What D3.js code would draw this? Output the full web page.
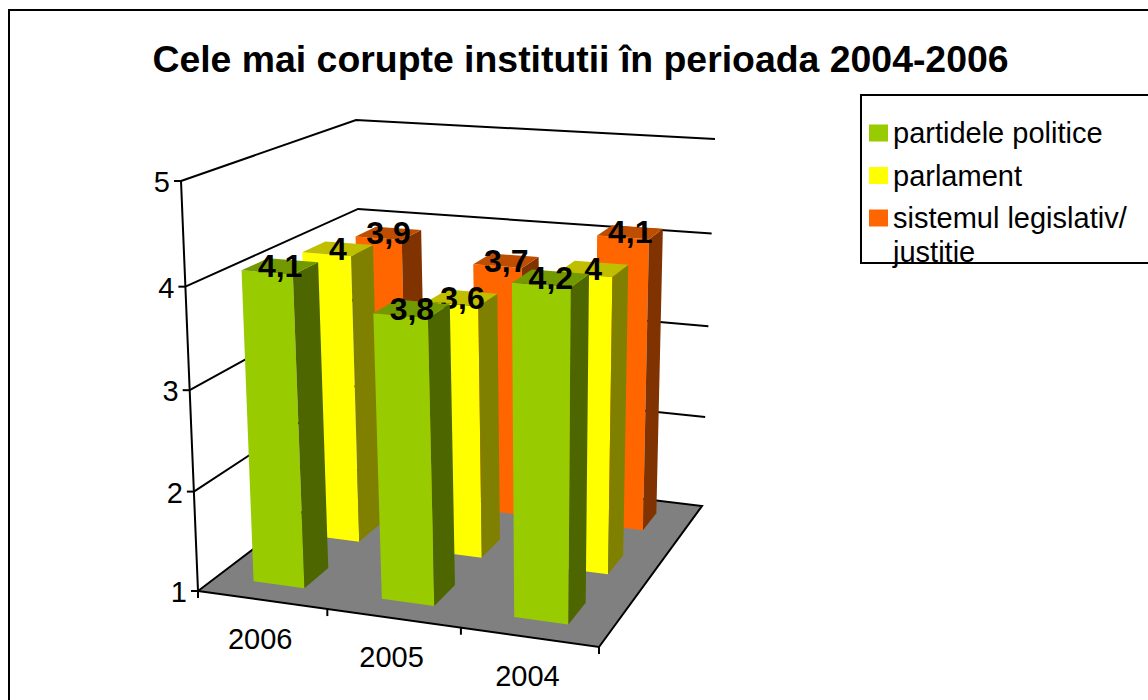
<!DOCTYPE html>
<html>
<head>
<meta charset="utf-8">
<script src="https://cdnjs.cloudflare.com/ajax/libs/d3/7.8.5/d3.min.js"></script>
<style>
  html, body { margin: 0; padding: 0; background: #fff; overflow: hidden; }
  text { font-family: "Liberation Sans", Arial, sans-serif; fill: #000; }
</style>
</head>
<body>
<svg id="chart" width="1148" height="700"></svg>
<script>
/*
** Data
*/
var chartTitle = "Cele mai corupte institutii în perioada 2004-2006"
  , years = ["2006", "2005", "2004"]
  , seriesNames = ["partidele politice", "parlament", "sistemul legislativ/ justitie"]
  , partide = [4.1, 3.8, 4.2]
  , parlament = [4, 3.6, 4]
  , sistem = [3.9, 3.7, 4.1]
  , valueTicks = [1, 2, 3, 4, 5]
  , seriesValues = [partide, parlament, sistem]
  , seriesColors = ["#99cc00", "#ffff00", "#ff6600"]
;

/*
** Projection: unit cube (u along years, v along series, w up) to the screen.
** One homography for the floor, one for the top plane, blended along w.
*/
function homography(O, X, Y, F) {
  var det = (X[0] - F[0]) * (Y[1] - F[1]) - (Y[0] - F[0]) * (X[1] - F[1])
    , wx = ((O[0] - F[0]) * (Y[1] - F[1]) - (Y[0] - F[0]) * (O[1] - F[1])) / det
    , wy = ((X[0] - F[0]) * (O[1] - F[1]) - (O[0] - F[0]) * (X[1] - F[1])) / det
  ;
  return function(u, v) {
    var d = 1 + u * (wx - 1) + v * (wy - 1);
    return [0, 1].map(function(i) {
      return (O[i] + u * (wx * X[i] - O[i]) + v * (wy * Y[i] - O[i])) / d;
    });
  };
}

var floorPlane = homography([198, 591], [599, 647], [364, 465], [702, 506])
  , topPlane = homography([181, 181], [606, 212], [356, 120], [715, 139])
  , wz = 0.96
;

function project(u, v, w) {
  var a = floorPlane(u, v)
    , b = topPlane(u, v)
    , t = wz * w / (1 + (wz - 1) * w)
  ;
  return [a[0] + (b[0] - a[0]) * t, a[1] + (b[1] - a[1]) * t];
}

/*
** Scales
*/
var uScale = d3.scaleBand().domain(years).range([-0.004, 0.996]).paddingInner(0.6).paddingOuter(0.3)
  , vScale = d3.scaleBand().domain(seriesNames).range([0, 1]).paddingInner(0.58).paddingOuter(0.3)
  , wScale = d3.scaleLinear().domain([1, 5]).range([0, 1])
  , polygon = d3.line().curve(d3.curveLinearClosed)
  , polyline = d3.line()
  , labelFormat = function(d) { return String(d).replace(".", ","); }
;

var svg = d3.select("#chart");

// outer frame, runs off the window on the right and at the bottom
svg.append("rect")
    .attr("x", 9).attr("y", 10).attr("width", 1200).attr("height", 760)
    .attr("fill", "#fff").attr("stroke", "#000").attr("stroke-width", 2);

svg.append("text")
    .attr("x", 580.5).attr("y", 72)
    .attr("text-anchor", "middle")
    .attr("font-size", 37.4).attr("font-weight", "bold")
    .text(chartTitle);

/*
** Walls and floor
*/
var walls = svg.append("g").attr("fill", "none").attr("stroke", "#000").attr("stroke-width", 2);

walls.append("path")
    .attr("fill", "#808080")
    .attr("d", polygon([project(0, 0, 0), project(1, 0, 0), project(1, 1, 0), project(0, 1, 0)]));

valueTicks.slice(1).forEach(function(t) {
  var w = wScale(t);
  walls.append("path")
      .attr("d", polyline([project(0, 0, w), project(0, 1, w), project(1, 1, w)]));
});

walls.append("path").attr("d", polyline([project(0, 0, 0), project(0, 0, 1)]));

valueTicks.forEach(function(t) {
  var p = project(0, 0, wScale(t));
  walls.append("path").attr("d", polyline([[p[0] - 7, p[1]], p]));
  svg.append("text")
      .attr("x", p[0] - 11).attr("y", p[1] + 11)
      .attr("text-anchor", "end")
      .attr("font-size", 29)
      .text(t);
});

// year ticks and labels on the front edge
d3.range(years.length + 1).forEach(function(i) {
  var p = project(i / years.length, 0, 0);
  walls.append("path").attr("d", polyline([p, [p[0], p[1] + 7]]));
});

years.forEach(function(year, i) {
  var p = project((i + 0.5) / years.length, 0, 0);
  svg.append("text")
      .attr("x", p[0] - 2).attr("y", p[1] + 49)
      .attr("text-anchor", "middle")
      .attr("font-size", 29)
      .text(year);
});

/*
** Bars, back series first; labels stay in the series group so nearer bars cover them
*/
function barFaces(selection, color) {
  selection.each(function(d) {
    var g = d3.select(this)
      , u0 = uScale(d.year), u1 = u0 + uScale.bandwidth()
      , v0 = vScale(d.series), v1 = v0 + vScale.bandwidth()
      , top = wScale(d.value)
      , c = d3.rgb(color)
    ;
    function shade(k) { return d3.rgb(c.r * k, c.g * k, c.b * k).formatHex(); }

    g.append("path").attr("fill", color)
        .attr("d", polygon([project(u0, v0, 0), project(u1, v0, 0), project(u1, v0, top), project(u0, v0, top)]));
    g.append("path").attr("fill", shade(0.5))
        .attr("d", polygon([project(u1, v0, 0), project(u1, v1, 0), project(u1, v1, top), project(u1, v0, top)]));
    g.append("path").attr("fill", shade(0.75))
        .attr("d", polygon([project(u0, v0, top), project(u1, v0, top), project(u1, v1, top), project(u0, v1, top)]));
  });
}

function labelPoint(d) {
  return project(uScale(d.year) + uScale.bandwidth() / 2, vScale(d.series) + vScale.bandwidth() / 2, wScale(d.value));
}

d3.range(seriesNames.length - 1, -1, -1).forEach(function(s) {
  var rows = years.map(function(year, i) {
    return { year: year, series: seriesNames[s], value: seriesValues[s][i] };
  });
  var group = svg.append("g");

  group.selectAll("g.bar")
      .data(rows)
    .join("g")
      .attr("class", "bar")
      .call(barFaces, seriesColors[s]);

  group.selectAll("text")
      .data(rows)
    .join("text")
      .attr("text-anchor", "middle")
      .attr("font-size", 32).attr("font-weight", "bold")
      .attr("x", function(d) { return labelPoint(d)[0]; })
      .attr("y", function(d) { return labelPoint(d)[1] + 11; })
      .text(function(d) { return labelFormat(d.value); });
});

/*
** Legend
*/
var legend = svg.append("g");

legend.append("rect")
    .attr("x", 861).attr("y", 95).attr("width", 320).attr("height", 168)
    .attr("fill", "#fff").attr("stroke", "#000").attr("stroke-width", 2);

var legendLines = [["partidele politice"], ["parlament"], ["sistemul legislativ/", "justitie"]];

legendLines.forEach(function(lines, i) {
  var y = 133 + i * 42.5;
  legend.append("rect")
      .attr("x", 869).attr("y", y - 8.5).attr("width", 19).attr("height", 17)
      .attr("fill", seriesColors[i]);
  lines.forEach(function(line, j) {
    legend.append("text")
        .attr("x", 893).attr("y", y + 10 + j * 34)
        .attr("font-size", 29)
        .text(line);
  });
});
</script>
</body>
</html>
